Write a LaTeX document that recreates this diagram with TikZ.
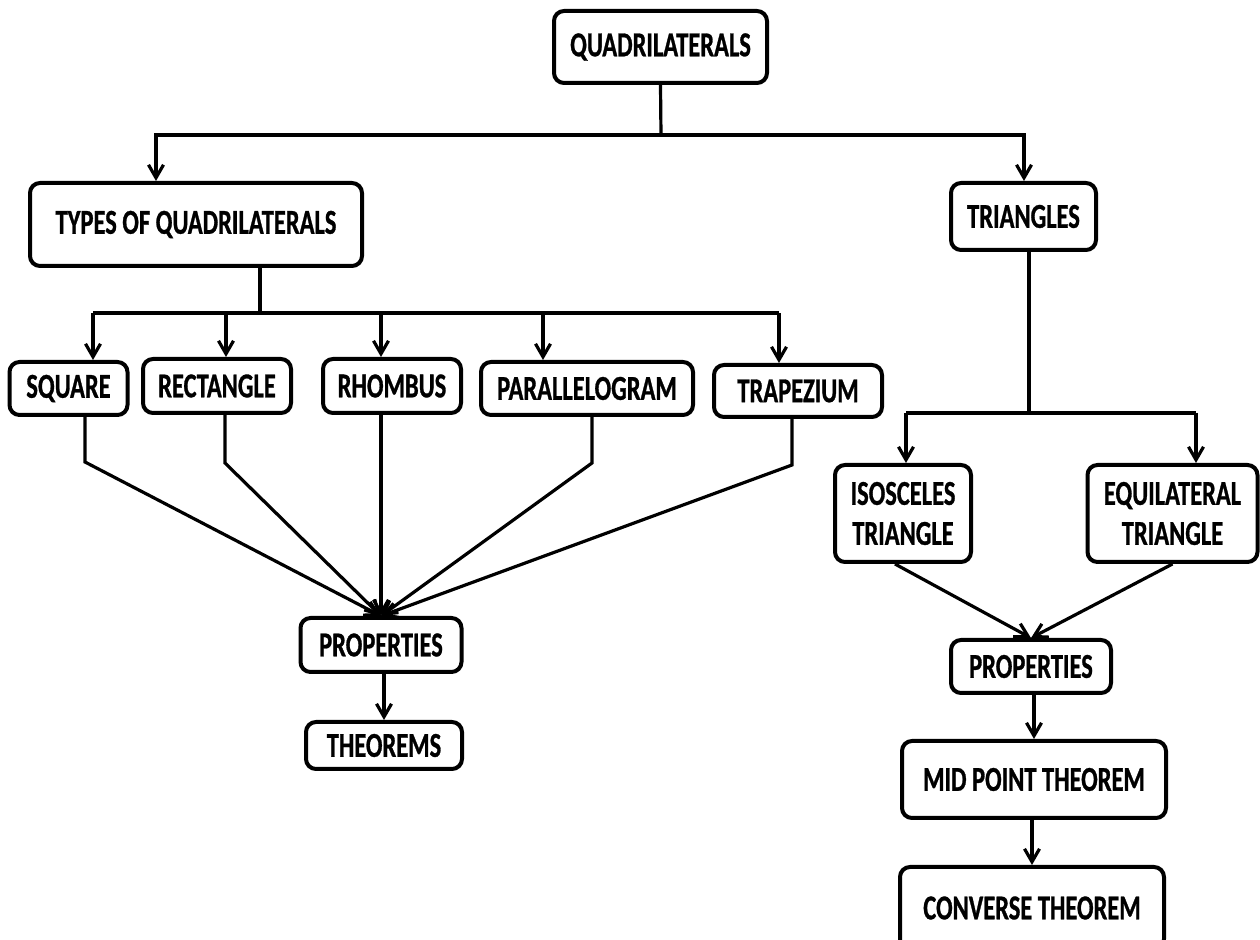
\documentclass[tikz,border=0pt]{standalone}
\usepackage{fontspec}
\setmainfont{Carlito}[FakeStretch=0.70, BoldFeatures={FakeBold=0.8}]
\usetikzlibrary{arrows.meta}
\begin{document}
\begin{tikzpicture}[x=0.5pt,y=-0.5pt,
  box/.style={draw, line width=2pt, rounded corners=5pt, align=center,
    font=\bfseries\fontsize{17.5}{20}\selectfont, inner sep=0pt},
  sz/.style 2 args={minimum width=#1*0.5pt, minimum height=#2*0.5pt},
  link/.style={line width=1.6pt},
  arr/.style={link, -{Straight Barb[length=6.5pt,width=7.5pt]}}]

% page
\fill[white] (0,0) rectangle (1260,940);
\useasboundingbox (0,0) rectangle (1260,940);

% boxes
\node[box,sz={213}{72}]  (q)     at (660.5,47)   {QUADRILATERALS};
\node[box,sz={332}{83}]  (types) at (196,224.5)  {TYPES OF QUADRILATERALS};
\node[box,sz={145}{67}]  (tri)   at (1023.5,216.5) {TRIANGLES};

\node[box,sz={118}{53}]  (square) at (68.5,388.5) {SQUARE};
\node[box,sz={148}{54}]  (rect)   at (217,386)    {RECTANGLE};
\node[box,sz={138}{54}]  (rhom)   at (392,386)    {RHOMBUS};
\node[box,sz={212}{53}]  (para)   at (587,388.5)  {PARALLELOGRAM};
\node[box,sz={168}{52}]  (trap)   at (798,391)    {TRAPEZIUM};

\node[box,sz={161}{54}]  (propL) at (381,645)    {PROPERTIES};
\node[box,sz={156}{47}]  (thm)   at (384,745.5)  {THEOREMS};

\node[box,sz={136}{97}]  (iso)   at (903,513.5)    {ISOSCELES\\TRIANGLE};
\node[box,sz={170}{97}]  (equi)  at (1172.5,513.5) {EQUILATERAL\\TRIANGLE};
\node[box,sz={160}{53}]  (propR) at (1031,666.5)   {PROPERTIES};
\node[box,sz={264}{77}]  (mid)   at (1034,779.5)   {MID POINT THEOREM};
\node[box,sz={264}{82}]  (conv)  at (1032,908)     {CONVERSE THEOREM};

% top branching
\coordinate (qbus) at (661,135);
\coordinate (tl) at (156,135);
\coordinate (tr) at (1024,135);
\draw[link] (q.south) -- (qbus);
\draw[arr] (qbus) -| (tl |- types.north);
\draw[arr] (qbus) -| (tr |- tri.north);

% quadrilateral types
\coordinate (ts) at (260,313);
\coordinate (b1) at (93,313);
\coordinate (b2) at (226,313);
\coordinate (b3) at (381,313);
\coordinate (b4) at (543,313);
\coordinate (b5) at (779,313);
\draw[link] (ts |- types.south) -- (ts);
\draw[link] (b1) -- (b5);
\draw[arr] (b1) -- (b1 |- square.north);
\draw[arr] (b2) -- (b2 |- rect.north);
\draw[arr] (b3) -- (b3 |- rhom.north);
\draw[arr] (b4) -- (b4 |- para.north);
\draw[arr] (b5) -- (b5 |- trap.north);

% all types lead to properties
\coordinate (k1) at (85,462);
\coordinate (k2) at (225,463);
\coordinate (k4) at (592,463);
\coordinate (k5) at (792,465);
\draw[arr] (square.south -| k1) -- (k1) -- (propL.north);
\draw[arr] (rect.south -| k2) -- (k2) -- (propL.north);
\draw[arr] (rhom.south -| propL.north) -- (propL.north);
\draw[arr] (para.south -| k4) -- (k4) -- (propL.north);
\draw[arr] (trap.south -| k5) -- (k5) -- (propL.north);
\draw[arr] (propL.south -| thm.north) -- (thm.north);

% triangle branch
\coordinate (rs) at (1029,413);
\coordinate (r1) at (906,413);
\coordinate (r2) at (1196,413);
\draw[link] (tri.south -| rs) -- (rs);
\draw[link] (r1) -- (r2);
\draw[arr] (r1) -- (r1 |- iso.north);
\draw[arr] (r2) -- (r2 |- equi.north);
\draw[arr] ([xshift=-4pt]iso.south) -- (propR.north);
\draw[arr] (equi.south) -- (propR.north);
\draw[arr] (propR.south -| mid.north) -- (mid.north);
\draw[arr] (mid.south -| conv.north) -- (conv.north);
\end{tikzpicture}
\end{document}
